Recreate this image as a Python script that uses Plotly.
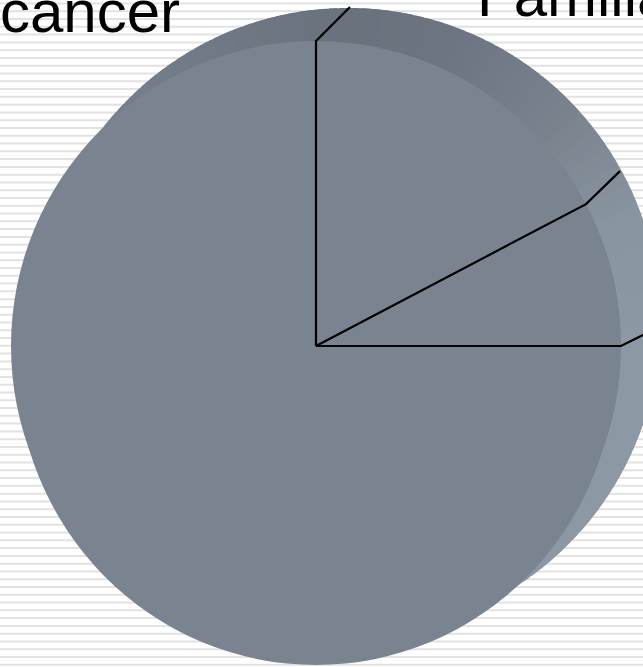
import math
import plotly.graph_objects as go

# ---- data ----
labels = ["Familial cancer", "Hereditary cancer", "Sporadic cancer"]
values = [17.3, 7.7, 75.0]
visible_label_texts = ["cancer", "Familial"]

# ---- layout constants (pixels) ----
W, H = 643, 667
CX, CY, R = 316, 346, 305
MAIN = "#7a8490"


def px(x):
    return x / W


def py(y):
    return 1 - y / H


def hex2rgb(h):
    h = h.lstrip("#")
    return tuple(int(h[i:i + 2], 16) for i in (0, 2, 4))


def lerp_color(stops, a):
    if a <= stops[0][0]:
        return stops[0][1]
    for (a0, c0), (a1, c1) in zip(stops, stops[1:]):
        if a0 <= a <= a1:
            t = (a - a0) / (a1 - a0)
            r0, g0, b0 = hex2rgb(c0)
            r1, g1, b1 = hex2rgb(c1)
            return "rgb(%d,%d,%d)" % (r0 + (r1 - r0) * t, g0 + (g1 - g0) * t, b0 + (b1 - b0) * t)
    return stops[-1][1]


fig = go.Figure()
fig.add_trace(go.Pie(
    labels=labels, values=values, sort=False, direction="clockwise", rotation=0,
    marker=dict(colors=[MAIN] * len(values), line=dict(width=0)),
    textinfo="none", hoverinfo="label+percent", showlegend=False,
    domain=dict(x=[px(CX - R), px(CX + R)], y=[py(CY + R), py(CY - R)]),
))

shapes = []
# striped background
k = 0
while True:
    y = 3.5 + 7.78 * k
    if y > H:
        break
    shapes.append(dict(type="line", xref="paper", yref="paper", x0=0, x1=1, y0=py(y), y1=py(y),
                       line=dict(color="#e2e2e2", width=2), layer="below"))
    k += 1

# 3D wall behind the pie (angular shading)
BX, BY, BRX, BRY = 348, 322, 312, 314
stops = [(-100, "#8793a0"), (-40, "#8d99a5"), (0, "#8c98a4"), (20, "#8995a1"), (45, "#78828d"),
         (70, "#6c7581"), (90, "#69727d"), (120, "#717b87"), (150, "#7a8490"), (270, "#7a8490")]
step = 2
for a0 in range(-100, 260, step):
    a1 = a0 + step + 1.5
    pts = []
    for j in range(3):
        a = math.radians(a0 + (a1 - a0) * j / 2)
        pts.append((BX + BRX * math.cos(a), BY - BRY * math.sin(a)))
    path = "M %f,%f " % (px(BX), py(BY)) + " ".join("L %f,%f" % (px(x), py(y)) for x, y in pts) + " Z"
    col = lerp_color(stops, a0 + step / 2)
    shapes.append(dict(type="path", xref="paper", yref="paper", path=path, fillcolor=col,
                       line=dict(width=0), layer="below"))

# front body of pie (lower bulge)
FX, FY, FRX, FRY = 316, 360, 300, 305
shapes.append(dict(type="circle", xref="paper", yref="paper",
                   x0=px(FX - FRX), x1=px(FX + FRX), y0=py(FY + FRY), y1=py(FY - FRY),
                   fillcolor=MAIN, line=dict(width=0), layer="below"))

# slice borders + leader lines, derived from the values
total = sum(values)
leader_offsets = [(34, -34), (34, -33), (24, -12)]
cum = 0.0
for i in range(len(values)):
    ang = math.radians(90 - 360 * cum / total)
    ex, ey = CX + R * math.cos(ang), CY - R * math.sin(ang)
    dx, dy = leader_offsets[i]
    path = "M %f,%f L %f,%f L %f,%f" % (px(CX), py(CY), px(ex), py(ey), px(ex + dx), py(ey + dy))
    shapes.append(dict(type="path", xref="paper", yref="paper", path=path,
                       line=dict(color="black", width=2.2), layer="above"))
    cum += values[i]

annotations = [
    dict(text=visible_label_texts[0], xref="paper", yref="paper", x=px(-2), y=py(47),
         xanchor="left", yanchor="bottom", showarrow=False,
         font=dict(family="Liberation Sans, Arial, sans-serif", size=60, color="black")),
    dict(text=visible_label_texts[1], xref="paper", yref="paper", x=px(475), y=py(31),
         xanchor="left", yanchor="bottom", showarrow=False,
         font=dict(family="Liberation Sans, Arial, sans-serif", size=60, color="black")),
]

fig.update_layout(
    width=W, height=H, margin=dict(l=0, r=0, t=0, b=0),
    paper_bgcolor="white", plot_bgcolor="white",
    shapes=shapes, annotations=annotations, showlegend=False,
)

fig.write_html("out.html")
